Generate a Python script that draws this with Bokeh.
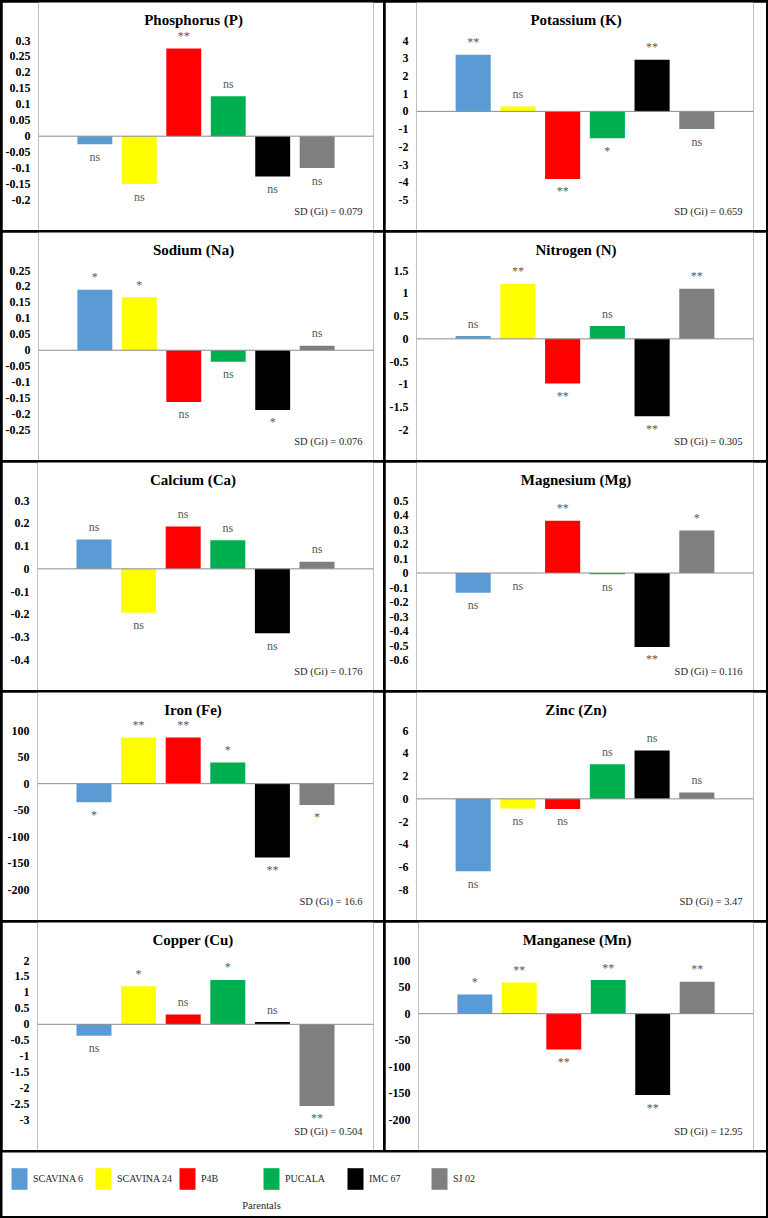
from bokeh.plotting import figure
from bokeh.layouts import row, column
from bokeh.models import (Range1d, FixedTicker, CustomJSTickFormatter, Span, Label,
                          Legend, LegendItem, ColumnDataSource)
from bokeh.core.properties import value
from bokeh.embed import file_html
from bokeh.resources import INLINE

# ---------------- data ----------------
categories = ["SCAVINA 6", "SCAVINA 24", "P4B", "PUCALA", "IMC 67", "SJ 02"]
colors = ["#5B9BD5", "#FFFF00", "#FF0000", "#00B050", "#000000", "#7F7F7F"]

phosphorus = [-0.025, -0.150, 0.275, 0.125, -0.126, -0.100]
phosphorus_sig = ["ns", "ns", "**", "ns", "ns", "ns"]
phosphorus_ticks = [0.3, 0.25, 0.2, 0.15, 0.1, 0.05, 0, -0.05, -0.1, -0.15, -0.2]

potassium = [3.19, 0.28, -3.81, -1.52, 2.91, -1.00]
potassium_sig = ["**", "ns", "**", "*", "**", "ns"]
potassium_ticks = [4, 3, 2, 1, 0, -1, -2, -3, -4, -5]

sodium = [0.190, 0.166, -0.162, -0.036, -0.187, 0.014]
sodium_sig = ["*", "*", "ns", "ns", "*", "ns"]
sodium_ticks = [0.25, 0.2, 0.15, 0.1, 0.05, 0, -0.05, -0.1, -0.15, -0.2, -0.25]

nitrogen = [0.06, 1.21, -0.98, 0.28, -1.70, 1.10]
nitrogen_sig = ["ns", "**", "**", "ns", "**", "**"]
nitrogen_ticks = [1.5, 1, 0.5, 0, -0.5, -1, -1.5, -2]

calcium = [0.129, -0.193, 0.186, 0.126, -0.283, 0.031]
calcium_sig = ["ns", "ns", "ns", "ns", "ns", "ns"]
calcium_ticks = [0.3, 0.2, 0.1, 0, -0.1, -0.2, -0.3, -0.4]

magnesium = [-0.136, -0.003, 0.360, -0.009, -0.510, 0.293]
magnesium_sig = ["ns", "ns", "**", "ns", "**", "*"]
magnesium_ticks = [0.5, 0.4, 0.3, 0.2, 0.1, 0, -0.1, -0.2, -0.3, -0.4, -0.5, -0.6]

iron = [-35.0, 86.9, 86.9, 40.0, -138.7, -40.0]
iron_sig = ["*", "**", "**", "*", "**", "*"]
iron_ticks = [100, 50, 0, -50, -100, -150, -200]

zinc = [-6.35, -0.85, -0.88, 3.03, 4.24, 0.56]
zinc_sig = ["ns", "ns", "ns", "ns", "ns", "ns"]
zinc_ticks = [6, 4, 2, 0, -2, -4, -6, -8]

copper = [-0.36, 1.19, 0.31, 1.39, 0.07, -2.56]
copper_sig = ["ns", "*", "ns", "*", "ns", "**"]
copper_ticks = [2, 1.5, 1, 0.5, 0, -0.5, -1, -1.5, -2, -2.5, -3]

manganese = [36.25, 58.75, -67.5, 63.1, -153.0, 60.0]
manganese_sig = ["*", "**", "**", "**", "**", "**"]
manganese_ticks = [100, 50, 0, -50, -100, -150, -200]

titles = ["Phosphorus (P)", "Potassium (K)", "Sodium (Na)", "Nitrogen (N)",
          "Calcium (Ca)", "Magnesium (Mg)", "Iron (Fe)", "Zinc (Zn)",
          "Copper (Cu)", "Manganese (Mn)"]
sd_values = ["0.079", "0.659", "0.076", "0.305", "0.176", "0.116",
             "16.6", "3.47", "0.504", "12.95"]
axis_title = "Parentals"

# ---------------- layout constants ----------------
PANEL_W = 381
PANEL_H = 228
FONT = "Liberation Serif"
X0, X1 = -1.267, 6.267
BAR_W = 0.785
PY_TITLE, PY_TOP, PY_BOT, PY_SD = 17.5, 38.0, 197.5, 209.0


def make_panel(title, vals, sig, ticks, sd, side):
    left = 35 if side == 0 else 31
    right = 10 if side == 0 else 13
    frame_w = PANEL_W - left - right
    ppx = frame_w / (X1 - X0)
    ttop, tbot = max(ticks), min(ticks)
    ppu = (PY_BOT - PY_TOP) / (ttop - tbot)
    y1 = ttop + PY_TOP / ppu
    y0 = tbot - (PANEL_H - PY_BOT) / ppu

    p = figure(width=PANEL_W, height=PANEL_H, x_range=Range1d(X0, X1),
               y_range=Range1d(y0, y1), output_backend="svg", toolbar_location=None,
               min_border_left=left, min_border_right=right, min_border_top=0,
               min_border_bottom=0, x_axis_type=None)
    p.grid.visible = False
    p.outline_line_color = None
    p.background_fill_color = "white"
    p.border_fill_color = "white"

    ax = p.yaxis[0]
    ax.ticker = FixedTicker(ticks=ticks)
    ax.formatter = CustomJSTickFormatter(code="return String(Math.round(tick*1000)/1000);")
    ax.axis_line_color = None
    ax.major_tick_line_color = None
    ax.minor_tick_line_color = None
    ax.major_tick_out = 0
    ax.major_tick_in = 0
    ax.major_label_standoff = 8
    ax.major_label_text_font = FONT
    ax.major_label_text_font_style = "bold"
    ax.major_label_text_font_size = "12px"
    ax.major_label_text_color = "#000000"

    src = ColumnDataSource(dict(x=list(range(len(categories))), top=vals,
                                color=colors, cat=categories))
    p.vbar(x="x", top="top", bottom=0, width=BAR_W, fill_color="color",
           line_color=None, source=src)
    p.add_layout(Span(location=0, dimension="width", line_color="#8C8C8C", line_width=1))

    off = 12.5 / ppu
    ly = [v + off if v >= 0 else v - off for v in vals]
    p.text(x=list(range(len(categories))), y=ly, text=sig, text_align="center",
           text_baseline="middle", text_font=value(FONT), text_font_size="12px",
           text_color="#595959")

    p.add_layout(Label(x=X0 + (PANEL_W / 2 - left) / ppx, y=y1 - PY_TITLE / ppu,
                       text=title, text_align="center", text_baseline="middle",
                       text_font=FONT, text_font_style="bold", text_font_size="15px",
                       text_color="#000000"))
    p.add_layout(Label(x=X1 - 11 / ppx, y=y1 - PY_SD / ppu,
                       text="SD (Gi) = " + sd, text_align="right", text_baseline="middle",
                       text_font=FONT, text_font_size="10.5px", text_color="#262626"))
    return p


series = [
    (phosphorus, phosphorus_sig, phosphorus_ticks),
    (potassium, potassium_sig, potassium_ticks),
    (sodium, sodium_sig, sodium_ticks),
    (nitrogen, nitrogen_sig, nitrogen_ticks),
    (calcium, calcium_sig, calcium_ticks),
    (magnesium, magnesium_sig, magnesium_ticks),
    (iron, iron_sig, iron_ticks),
    (zinc, zinc_sig, zinc_ticks),
    (copper, copper_sig, copper_ticks),
    (manganese, manganese_sig, manganese_ticks),
]

panels = []
for i, (vals, sig, ticks) in enumerate(series):
    panels.append(make_panel(titles[i], vals, sig, ticks, sd_values[i], i % 2))

rows = [row(panels[2 * r], panels[2 * r + 1], spacing=2) for r in range(5)]

# ---------------- legend panel ----------------
LEG_W = 2 * PANEL_W + 2
LEG_H = 64
lg = figure(width=LEG_W, height=LEG_H, x_range=Range1d(0, LEG_W), y_range=Range1d(0, LEG_H),
            output_backend="svg", toolbar_location=None, min_border=0,
            x_axis_type=None, y_axis_type=None)
lg.grid.visible = False
lg.outline_line_color = None
lsrc = ColumnDataSource(dict(x=list(range(len(categories))), top=[0] * len(categories),
                             color=colors, cat=categories))
lr = lg.vbar(x="x", top="top", bottom=0, width=0.5, fill_color="color",
             line_color=None, source=lsrc)
items = [LegendItem(label=c, renderers=[lr], index=i) for i, c in enumerate(categories)]
legend = Legend(items=items, orientation="horizontal", location=(7, 24),
                glyph_width=20, glyph_height=27, label_standoff=4, label_width=60,
                spacing=0, padding=0, margin=0, border_line_color=None,
                background_fill_alpha=0, label_text_font=FONT,
                label_text_font_size="10px", label_text_color="#262626")
lg.add_layout(legend)
lg.add_layout(Label(x=259, y=11, text=axis_title, text_align="center",
                    text_baseline="middle", text_font=FONT, text_font_size="10.5px",
                    text_color="#262626"))

layout = column(*rows, lg, spacing=2,
                styles={"background-color": "black", "padding": "2px"})

open("out.html", "w").write(file_html(layout, INLINE))
